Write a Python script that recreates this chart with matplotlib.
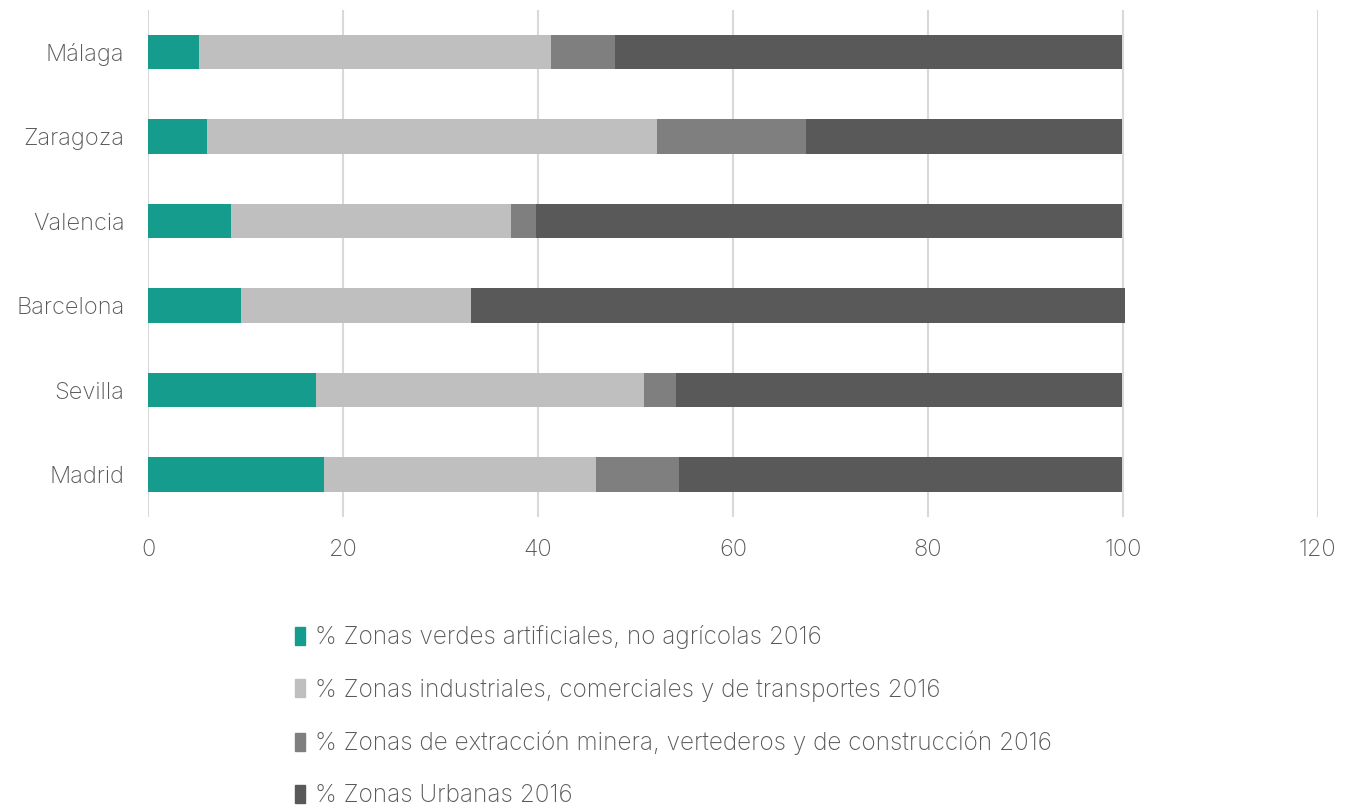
import matplotlib.pyplot as plt
from matplotlib.patches import Patch
import numpy as np

plt.rcParams['font.family'] = ['Inter', 'DejaVu Sans']

cities = ['Madrid', 'Sevilla', 'Barcelona', 'Valencia', 'Zaragoza', 'Málaga']
verdes = [18.0, 17.2, 9.5, 8.5, 6.0, 5.2]
industriales = [28.0, 33.7, 23.6, 28.7, 46.2, 36.1]
extraccion = [8.5, 3.3, 0.0, 2.6, 15.3, 6.6]
urbanas = [45.4, 45.7, 67.1, 60.1, 32.4, 52.0]

labels = ['% Zonas verdes artificiales, no agrícolas 2016',
          '% Zonas industriales, comerciales y de transportes 2016',
          '% Zonas de extracción minera, vertederos y de construcción 2016',
          '% Zonas Urbanas 2016']
colors = ['#169C8C', '#BFBFBF', '#7F7F7F', '#595959']

series = [verdes, industriales, extraccion, urbanas]

fig = plt.figure(figsize=(13.46, 8.09), dpi=100)
ax = fig.add_axes([0.110, 0.361, 0.869, 0.627])

y = np.arange(len(cities))
left = np.zeros(len(cities))
for vals, c in zip(series, colors):
    ax.barh(y, vals, left=left, height=0.41, color=c, zorder=3)
    left += np.array(vals)

ax.set_xlim(0, 120)
ax.set_ylim(-0.5, 5.5)
ax.set_xticks(range(0, 121, 20))
ax.set_yticks(y)
ax.set_yticklabels(cities)
ax.grid(axis='x', color='#D9D9D9', linewidth=1.5, zorder=0)
for s in ax.spines.values():
    s.set_visible(False)
ax.tick_params(axis='both', length=0, labelsize=17, labelcolor='#595959')
ax.tick_params(axis='x', pad=16)
ax.tick_params(axis='y', pad=17)
for t in ax.get_xticklabels() + ax.get_yticklabels():
    t.set_fontweight('light')

handles = [Patch(color=c) for c in colors]
leg = fig.legend(handles, labels, loc='upper left', bbox_to_anchor=(0.212, 0.239),
                 frameon=False, fontsize=17.5, handlelength=0.4, handleheight=0.75,
                 handletextpad=0.4, labelspacing=1.2, borderaxespad=0)
for t in leg.get_texts():
    t.set_color('#595959')
    t.set_fontweight('light')

fig.savefig('out.png', dpi=100)
